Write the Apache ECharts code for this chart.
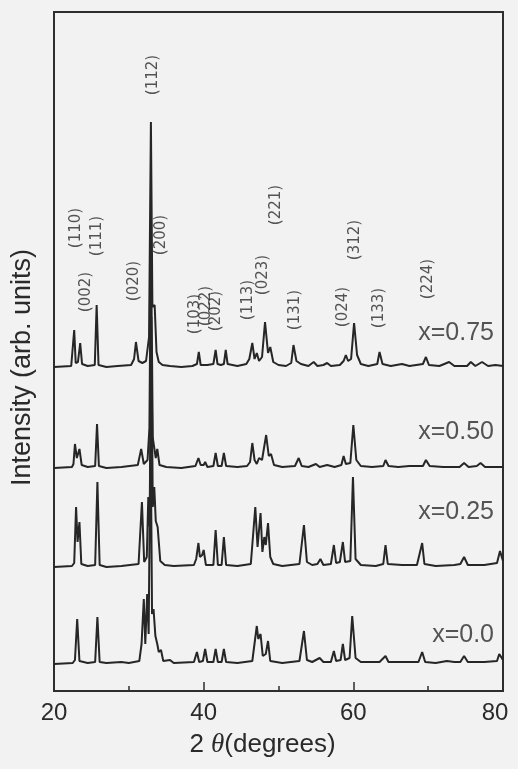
<!DOCTYPE html>
<html>
<head>
<meta charset="utf-8">
<script src="https://cdn.jsdelivr.net/npm/echarts@6/dist/echarts.min.js"></script>
<style>html,body{margin:0;padding:0;background:#f2f2f2;}#c{width:518px;height:769px;}</style>
</head>
<body>
<div id="c"></div>
<script>
// sample names and vertical offsets (arb. units) of each pattern
const sampleNames = ['x=0.75', 'x=0.50', 'x=0.25', 'x=0.0'];
const offsets = [324, 223, 124, 27];
// label anchors for sample names: [2theta, intensity]
const sampleLabelPos = [[78.8, 358], [78.8, 259], [78.8, 179], [78.8, 56]];

// XRD patterns: [2theta (deg), intensity (arb. units) above own baseline]
const trace075 = [[20,0],[22.3,1],[22.55,3],[22.7,37],[22.9,4],[23.2,5],[23.5,24],[23.75,3],[24.5,1],[25.45,2],[25.7,62],[25.95,2],[27,0],[28.5,1],[30.3,2],[30.7,8],[30.95,25],[31.3,6],[31.8,4],[32.3,6],[32.7,30],[32.95,245],[33.15,60],[33.45,62],[33.7,15],[34.0,5],[34.5,2],[35.5,1],[37,0],[38.5,1],[39.1,3],[39.35,15],[39.6,2],[40.5,2],[41.3,3],[41.6,17],[41.85,3],[42.3,2],[42.7,3],[42.95,17],[43.2,3],[44.5,1],[45.7,3],[46.1,8],[46.5,24],[46.8,8],[47.1,14],[47.4,6],[47.8,10],[48.2,45],[48.6,14],[48.9,20],[49.3,5],[50,2],[51,1],[51.7,4],[52.0,22],[52.4,6],[53,3],[54,1],[54.7,5],[55.2,1],[56.0,2],[56.5,4],[57,1],[58.2,2],[58.7,6],[59.0,12],[59.3,6],[59.7,8],[60.1,44],[60.5,12],[61,3],[62,1],[63.2,3],[63.5,15],[63.9,3],[65,1],[66.5,3],[67.5,1],[69.3,3],[69.7,10],[70.1,2],[71.5,1],[72.8,5],[73.5,1],[75.2,1],[75.7,5],[76.3,1],[77.2,5],[78,1],[79,2],[80,1]];
const trace050 = [[20,0],[22.4,1],[22.6,4],[22.8,24],[23.05,10],[23.4,19],[23.7,3],[24.5,1],[25.5,2],[25.75,44],[26.0,2],[27,0],[29,1],[31.2,3],[31.65,19],[32.0,4],[32.5,8],[32.75,40],[32.95,235],[33.2,30],[33.6,10],[33.8,19],[34.1,3],[35,1],[37,0],[38.9,2],[39.3,10],[39.6,3],[40.0,3],[40.2,6],[40.5,1],[41.3,2],[41.6,15],[41.9,2],[42.4,2],[42.7,15],[43.0,2],[44.5,1],[45.8,2],[46.2,6],[46.5,25],[46.8,8],[47.1,4],[47.4,10],[47.8,8],[48.35,33],[48.7,12],[49.0,14],[49.4,3],[50.5,1],[52.2,2],[52.7,10],[53.1,2],[54,1],[55,4],[55.5,1],[56.5,3],[57.5,1],[58.4,3],[58.7,12],[59.0,4],[59.6,5],[60.0,43],[60.4,8],[61,2],[62.5,1],[64.0,2],[64.3,8],[64.7,2],[66,1],[67.5,2],[69.3,2],[69.7,8],[70.2,2],[72,1],[74.2,1],[74.8,5],[75.4,1],[76.5,2],[77,5],[77.6,1],[79.5,1],[80,1]];
const trace025 = [[20,0],[22.4,1],[22.7,4],[22.95,60],[23.15,25],[23.4,45],[23.65,3],[24.5,1],[25.5,2],[25.8,85],[26.1,2],[27,0],[29,1],[31.3,3],[31.75,65],[32.05,5],[32.4,10],[32.6,70],[32.8,40],[33.0,250],[33.2,60],[33.4,80],[33.6,46],[33.85,40],[34.2,6],[34.8,2],[36,1],[38.7,2],[39.0,8],[39.3,24],[39.5,10],[39.8,12],[40.0,17],[40.3,2],[41.3,2],[41.6,37],[41.9,2],[42.4,2],[42.7,30],[43.0,2],[44.5,1],[46.3,3],[46.9,60],[47.2,20],[47.6,54],[47.85,15],[48.1,30],[48.3,22],[48.6,44],[48.9,10],[49.3,3],[50.5,1],[52.8,3],[53.4,42],[53.8,5],[54.5,2],[55.2,3],[55.6,8],[56.0,2],[57.0,3],[57.4,22],[57.7,4],[58.2,5],[58.6,25],[58.9,5],[59.6,6],[59.95,90],[60.3,8],[61,2],[63,1],[64.0,3],[64.3,22],[64.6,3],[66.5,2],[68.5,2],[69.2,24],[69.5,3],[71,1],[73.5,2],[74.3,3],[74.8,10],[75.3,2],[77.5,2],[79.2,4],[79.6,16],[80,6]];
const trace000 = [[20,0],[22.5,1],[22.8,4],[23.1,45],[23.4,3],[24.5,1],[25.5,2],[25.8,47],[26.1,2],[27,1],[29,2],[30,1],[31.4,3],[31.7,20],[32.0,65],[32.2,20],[32.45,70],[32.65,30],[32.9,250],[33.1,50],[33.3,55],[33.55,28],[33.8,20],[34.0,12],[34.3,14],[34.6,3],[35.5,4],[36,1],[38.7,2],[39.1,12],[39.4,2],[39.9,3],[40.2,15],[40.5,2],[41.3,2],[41.6,15],[41.9,2],[42.4,2],[42.7,15],[43.0,2],[44.5,1],[46.5,3],[47.1,38],[47.3,25],[47.6,30],[47.9,8],[48.3,10],[48.6,23],[48.9,3],[50.5,1],[52.8,3],[53.4,33],[53.8,4],[54.5,2],[55.5,6],[56,2],[57.0,2],[57.4,13],[57.7,3],[58.3,4],[58.6,20],[58.9,4],[59.5,6],[59.85,48],[60.3,6],[61,2],[63.5,2],[64.3,8],[64.7,2],[66,2],[68.7,2],[69.2,12],[69.6,2],[71,1],[72.5,3],[73.5,2],[74.3,2],[74.8,8],[75.3,2],[77.5,2],[79.2,3],[79.5,10],[80,4]];
const traces = [trace075, trace050, trace025, trace000];

// Miller index annotations and their anchor positions [2theta, intensity]
const hklNames = ['(110)','(111)','(002)','(020)','(112)','(200)','(103)','(022)','(202)','(113)','(023)','(221)','(131)','(024)','(312)','(133)','(224)'];
const hklPos = [[22.95,463],[25.76,455],[24.29,399],[30.71,410],[33.26,616],[34.33,456],[38.88,377],[40.36,385],[41.70,380],[45.98,391],[47.99,416],[49.73,486],[52.28,381],[58.70,384],[60.18,451],[63.39,383],[69.95,412]];

// x-axis tick labels
const xTickLabels = {20:'20', 40:'40', 60:'60', 80:'80'};

const ink = '#262626';
const series = traces.map((tr, i) => ({
  type: 'line',
  name: sampleNames[i],
  data: tr.map(p => [p[0], p[1] + offsets[i]]),
  symbol: 'none',
  lineStyle: { color: ink, width: 2 },
  z: 2
}));
series.push({
  type: 'scatter',
  data: hklPos.map((p, i) => ({ value: p, name: hklNames[i] })),
  symbolSize: 0,
  label: {
    show: true, position: 'inside', rotate: 90,
    formatter: d => d.name,
    fontFamily: 'DejaVu Sans', fontSize: 15, color: '#2a2a2a'
  },
  z: 3
});
series.push({
  type: 'scatter',
  data: sampleLabelPos.map((p, i) => ({ value: p, name: sampleNames[i] })),
  symbolSize: 0,
  label: {
    show: true, position: 'inside', align: 'right',
    formatter: d => d.name,
    fontFamily: 'Liberation Sans', fontSize: 25, color: '#2a2a2a'
  },
  z: 3
});

const chart = echarts.init(document.getElementById('c'));
chart.setOption({
  animation: false,
  backgroundColor: '#f2f2f2',
  grid: { left: 54, right: 15, top: 12, bottom: 78, show: true, borderColor: '#2e2e2e', borderWidth: 2, backgroundColor: 'transparent' },
  xAxis: {
    type: 'value', min: 20, max: 80, interval: 20,
    name: '{n|2 }{t|θ}{n|(degrees)}', nameLocation: 'middle', nameGap: 40,
    nameTextStyle: {
      padding: [0, 32, 0, 0],
      rich: {
        n: { fontFamily: 'Liberation Sans', fontSize: 26, color: '#2a2a2a' },
        t: { fontFamily: 'Liberation Serif', fontStyle: 'italic', fontSize: 27, color: '#2a2a2a' }
      }
    },
    axisLine: { show: true, lineStyle: { color: '#2e2e2e', width: 2 } },
    axisTick: { show: true, inside: true, length: 9, lineStyle: { color: '#2e2e2e', width: 1.5 } },
    minorTick: { show: true, splitNumber: 2, length: 5, lineStyle: { color: '#2e2e2e', width: 1.5 } },
    splitLine: { show: false },
    axisLabel: {
      margin: 10, fontFamily: 'Liberation Sans', fontSize: 24, color: '#2a2a2a',
      formatter: v => v === 80 ? '{r|' + xTickLabels[v] + '}' : (xTickLabels[v] || ''),
      rich: { r: { fontFamily: 'Liberation Sans', fontSize: 24, color: '#2a2a2a', padding: [0, 16, 0, 0] } }
    }
  },
  yAxis: {
    type: 'value', min: 0, max: 679,
    name: 'Intensity (arb. units)', nameLocation: 'middle', nameGap: 18,
    nameTextStyle: { fontFamily: 'Liberation Sans', fontSize: 27, color: '#2a2a2a', padding: [0, 32, 0, 0] },
    axisLine: { show: false }, axisTick: { show: false }, axisLabel: { show: false }, splitLine: { show: false }
  },
  series: series
});
</script>
</body>
</html>
